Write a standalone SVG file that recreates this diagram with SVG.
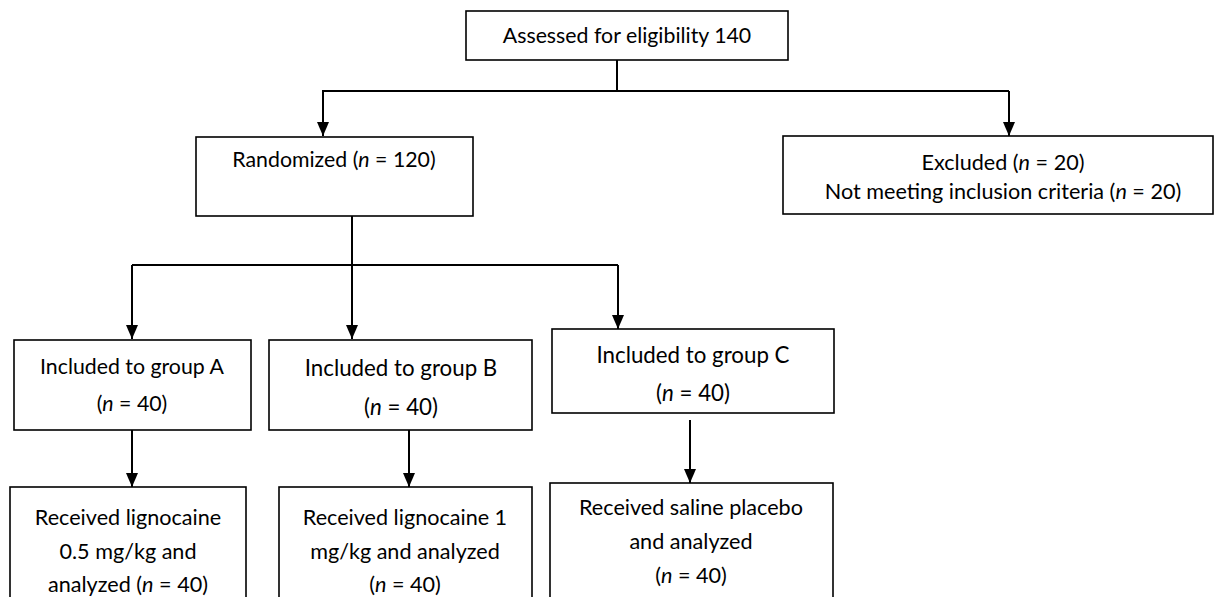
<svg xmlns="http://www.w3.org/2000/svg" width="1215" height="597" viewBox="0 0 1215 597">
<style>
.box{fill:#fff;stroke:#000;stroke-width:1.6}
.ln{fill:none;stroke:#000;stroke-width:2}
text{font-family:Lato,"Open Sans",sans-serif;fill:#000;text-anchor:middle}
.s{font-size:21.3px}
.x{font-size:21.6px}
.m{font-size:22.3px}
.l{font-size:21.6px}
.i{font-style:italic}
</style>
<defs>
<marker id="a" markerUnits="userSpaceOnUse" markerWidth="12" markerHeight="14" refX="6" refY="14" orient="0" viewBox="0 0 12 14">
<path d="M0,0 L12,0 L6,14 Z" fill="#000"/>
</marker>
</defs>
<g id="connectors">
<path class="ln" d="M617,60 V91 M322,91 H1009"/>
<path class="ln" d="M323,91 V136" marker-end="url(#a)"/>
<path class="ln" d="M1009,91 V136" marker-end="url(#a)"/>
<path class="ln" d="M352,216 V265 M132,265 H618"/>
<path class="ln" d="M132,265 V339" marker-end="url(#a)"/>
<path class="ln" d="M352,265 V339" marker-end="url(#a)"/>
<path class="ln" d="M618,265 V329" marker-end="url(#a)"/>
<path class="ln" d="M132,430 V487" marker-end="url(#a)"/>
<path class="ln" d="M409,430 V487" marker-end="url(#a)"/>
<path class="ln" d="M690,420 V483" marker-end="url(#a)"/>
</g>
<g id="assessed">
<rect class="box" x="466" y="11" width="322" height="49"/>
<text class="s" x="627" y="43">Assessed for eligibility 140</text>
</g>
<g id="randomized">
<rect class="box" x="196" y="137" width="277" height="79"/>
<text class="s" x="334" y="167">Randomized (<tspan class="i">n</tspan> = 120)</text>
</g>
<g id="excluded">
<rect class="box" x="783" y="136" width="430" height="78"/>
<text class="x" x="1003" y="170">Excluded (<tspan class="i">n</tspan> = 20)</text>
<text class="x" x="1003" y="199">Not meeting inclusion criteria (<tspan class="i">n</tspan> = 20)</text>
</g>
<g id="groupA">
<rect class="box" x="14" y="340" width="237" height="90"/>
<text class="s" x="132" y="374">Included to group A</text>
<text class="s" x="132" y="411">(<tspan class="i">n</tspan> = 40)</text>
</g>
<g id="groupB">
<rect class="box" x="269" y="340" width="263" height="90"/>
<text class="m" x="401" y="376">Included to group B</text>
<text class="m" x="401" y="415">(<tspan class="i">n</tspan> = 40)</text>
</g>
<g id="groupC">
<rect class="box" x="552" y="329" width="282" height="84"/>
<text class="m" x="693" y="363">Included to group C</text>
<text class="m" x="693" y="401">(<tspan class="i">n</tspan> = 40)</text>
</g>
<g id="receivedA">
<rect class="box" x="10" y="487" width="236" height="120"/>
<text class="l" x="128" y="525">Received lignocaine</text>
<text class="l" x="128" y="559">0.5 mg/kg and</text>
<text class="l" x="128" y="592">analyzed (<tspan class="i">n</tspan> = 40)</text>
</g>
<g id="receivedB">
<rect class="box" x="279" y="487" width="253" height="120"/>
<text class="l" x="405" y="525">Received lignocaine 1</text>
<text class="l" x="405" y="559">mg/kg and analyzed</text>
<text class="l" x="405" y="592">(<tspan class="i">n</tspan> = 40)</text>
</g>
<g id="receivedC">
<rect class="box" x="550" y="483" width="283" height="124"/>
<text class="l" x="691" y="515">Received saline placebo</text>
<text class="l" x="691" y="549">and analyzed</text>
<text class="l" x="691" y="583">(<tspan class="i">n</tspan> = 40)</text>
</g>
</svg>
